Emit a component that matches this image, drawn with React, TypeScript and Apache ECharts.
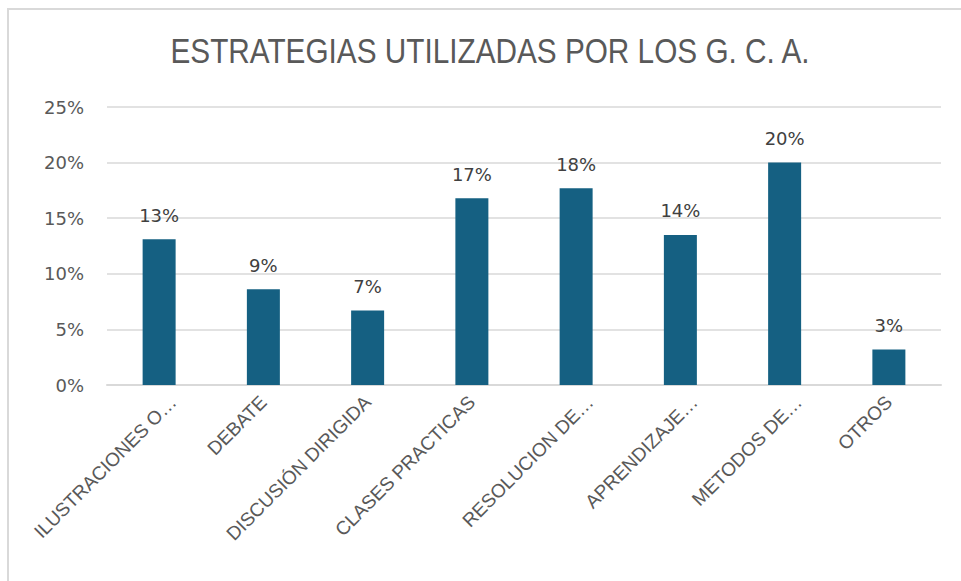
import React, { useEffect, useRef } from "react";
import * as echarts from "echarts";

const categories = [
  "ILUSTRACIONES O…",
  "DEBATE",
  "DISCUSIÓN DIRIGIDA",
  "CLASES PRACTICAS",
  "RESOLUCION DE…",
  "APRENDIZAJE…",
  "METODOS DE…",
  "OTROS",
];
const values = [13.1, 8.6, 6.7, 16.8, 17.7, 13.5, 20.0, 3.2];
const yTicks = [0, 5, 10, 15, 20, 25];
const titleText = "ESTRATEGIAS UTILIZADAS POR LOS G. C. A.";

export default function App() {
  const ref = useRef<HTMLDivElement>(null);
  useEffect(() => {
    if (!ref.current) return;
    const chart = echarts.init(ref.current, null, { renderer: "svg" });
    const font = '"Liberation Sans", Arial, sans-serif';
    const numFont = '"DejaVu Sans", "Liberation Sans", sans-serif';
    const isTrunc = (v: string) => v.endsWith("…");
    const catLabel = {
      rotate: 45,
      interval: 0,
      margin: 14,
      fontFamily: font,
      fontSize: 19,
      color: "#595959",
    };
    chart.setOption({
      animation: false,
      backgroundColor: "#ffffff",
      graphic: [
        {
          type: "rect",
          shape: { x: 8, y: 9, width: 1200, height: 800 },
          style: { fill: "none", stroke: "#d9d9d9", lineWidth: 2 },
          silent: true,
        },
        {
          type: "text",
          x: 490,
          y: 51,
          scaleX: 0.85,
          style: {
            text: titleText,
            fontFamily: font,
            fontSize: 35,
            fill: "#595959",
            textAlign: "center",
            textVerticalAlign: "middle",
          },
          silent: true,
        },
      ],
      grid: [
        { left: 107, right: 20, top: 107, bottom: 196, containLabel: false },
        { left: 121, right: 6, top: 107, bottom: 196, containLabel: false },
      ],
      xAxis: [
        {
          type: "category",
          gridIndex: 0,
          data: categories,
          axisLine: { show: true, lineStyle: { color: "#d9d9d9", width: 2 } },
          axisTick: { show: false },
          axisLabel: {
            ...catLabel,
            formatter: (v: string) => (isTrunc(v) ? "" : v),
          },
        },
        {
          type: "category",
          gridIndex: 1,
          data: categories,
          axisLine: { show: false },
          axisTick: { show: false },
          axisLabel: {
            ...catLabel,
            formatter: (v: string) => (isTrunc(v) ? v : ""),
          },
        },
      ],
      yAxis: [
        {
          type: "value",
          gridIndex: 0,
          min: yTicks[0],
          max: yTicks[yTicks.length - 1],
          interval: 5,
          axisLine: { show: false },
          axisTick: { show: false },
          splitLine: { lineStyle: { color: "#d9d9d9", width: 1.5 } },
          axisLabel: {
            formatter: (v: number) => `${v}%`,
            margin: 23,
            fontFamily: numFont,
            fontSize: 18,
            color: "#595959",
          },
        },
        {
          type: "value",
          gridIndex: 1,
          min: yTicks[0],
          max: yTicks[yTicks.length - 1],
          interval: 5,
          show: false,
        },
      ],
      series: [
        {
          type: "bar",
          xAxisIndex: 0,
          yAxisIndex: 0,
          data: values,
          barWidth: 33,
          itemStyle: { color: "#156082" },
          label: {
            show: true,
            position: "top",
            distance: 15,
            formatter: (p: any) => `${Math.round(p.value)}%`,
            fontFamily: numFont,
            fontSize: 18,
            color: "#404040",
          },
        },
      ],
    });
    return () => chart.dispose();
  }, []);
  return (
    <div
      ref={ref}
      style={{ position: "fixed", left: 0, top: 0, width: 961, height: 581 }}
    />
  );
}
